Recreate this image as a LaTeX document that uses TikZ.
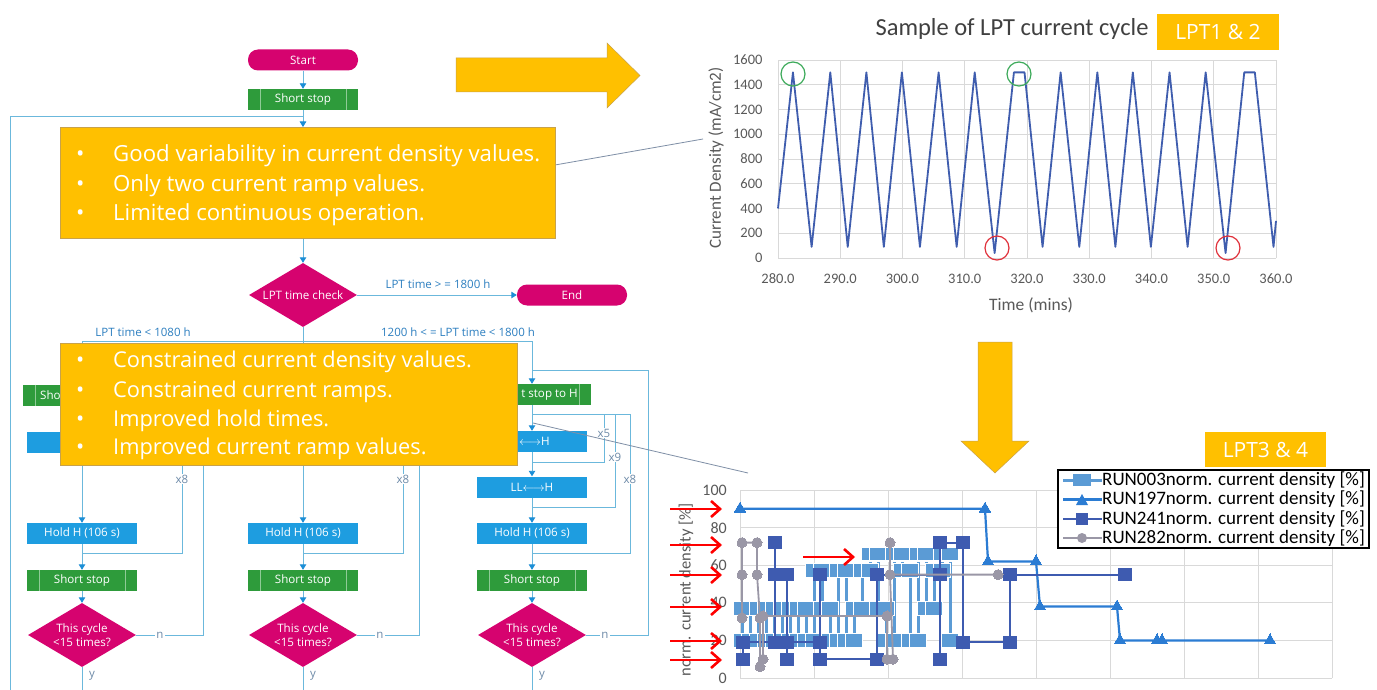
\documentclass[tikz,border=0pt]{standalone}
\usepackage{fontspec}
\setmainfont{Carlito}
\newfontfamily\fcf{Open Sans}
\usetikzlibrary{arrows.meta,shapes.geometric,plotmarks}
\definecolor{mg}{HTML}{D6036F}
\definecolor{gn}{HTML}{2E9B3B}
\definecolor{gl}{HTML}{8FCB96}
\definecolor{bl}{HTML}{1E9DE0}
\definecolor{cn}{HTML}{6BB8DC}
\definecolor{ah}{HTML}{1B8ED6}
\definecolor{lb}{HTML}{2D7FC0}
\definecolor{xg}{HTML}{6D8AA8}
\definecolor{og}{HTML}{FFC000}
\definecolor{obd}{HTML}{C8A24A}
\definecolor{tg}{HTML}{595959}
\definecolor{tt}{HTML}{404040}
\definecolor{gr}{HTML}{D9D9D9}
\definecolor{wv}{HTML}{3F5DAE}
\definecolor{r003}{HTML}{5B9BD5}
\definecolor{r197}{HTML}{2B7CD3}
\definecolor{r241}{HTML}{3E5BB0}
\definecolor{r282}{HTML}{9A97A6}
\definecolor{cgreen}{HTML}{3DAA5A}
\definecolor{cred}{HTML}{E0303A}
\definecolor{cl}{HTML}{7F8FA6}
\begin{document}
\begin{tikzpicture}[x=1pt,y=-1pt,
  conn/.style={draw=cn, line width=0.9pt},
  ar/.style={conn, -{Triangle[width=6.5pt,length=5.5pt,color=ah]}},
  fc/.style={text=white, inner sep=0pt, font=\fcf\fontsize{11.6}{14}\selectfont, align=center},
  pill/.style={fc, fill=mg, rounded corners=10pt, minimum width=110pt, minimum height=21pt},
  gbox/.style={fc, fill=gn, minimum width=110pt, minimum height=21pt,
    path picture={\draw[draw=gl, line width=0.8pt]
      ([xshift=12pt]path picture bounding box.north west) -- ([xshift=12pt]path picture bounding box.south west)
      ([xshift=-12pt]path picture bounding box.north east) -- ([xshift=-12pt]path picture bounding box.south east);}},
  bbox/.style={fc, fill=bl, minimum width=110pt, minimum height=21pt},
  dia/.style={fc, diamond, fill=mg, shape aspect=1.7, minimum width=108pt, minimum height=64pt},
  lab/.style={text=lb, inner sep=1pt, font=\fcf\fontsize{11.5}{13}\selectfont},
  xlab/.style={text=xg, fill=white, inner sep=1pt, font=\fcf\fontsize{11.5}{13}\selectfont},
  ylab/.style={text=xg, inner sep=1pt, font=\fcf\fontsize{11.5}{13}\selectfont},
  wt/.style={text=white, inner sep=0pt, font=\fcf\fontsize{11.6}{14}\selectfont},
  obox/.style={fill=og, draw=obd, line width=0.6pt, inner sep=0pt},
  otext/.style={text=white, inner sep=0pt, anchor=base west, font=\fcf\fontsize{22.2}{26}\selectfont},
  tk/.style={text=tg, font=\fontsize{14.5}{16}\selectfont, inner sep=1pt},
  grd/.style={draw=gr, line width=0.8pt},
  bigar/.style={fill=og, draw=obd, line width=0.5pt},
  rar/.style={draw=red, line width=2.6pt, -{Straight Barb[length=9pt,width=16pt]}},
  callout/.style={draw=cl, line width=0.8pt},
  legt/.style={anchor=west, inner sep=0pt, font=\fontsize{19}{22}\selectfont},
  lptbox/.style={fill=og, inner sep=0pt, text=white, font=\fcf\fontsize{21}{24}\selectfont},
]
\fill[white] (0,0) rectangle (1377,690);
\useasboundingbox (0,0) rectangle (1377,690);

% ---------------- flowchart ----------------
\node[pill] (start) at (303,60) {Start};
\node[gbox] (ss0) at (303,99.5) {Short stop};
\draw[ar] (start) -- (ss0);
\coordinate (lpB) at (10,690);
\coordinate (lpT) at (10,116);
\coordinate (lpJ) at (303,116);
\coordinate (ob1top) at (303,127);
\coordinate (ob1bot) at (303,238);
\draw[conn] (ss0.south) -- (lpJ);
\draw[conn] (lpB) -- (lpT) -- (lpJ);
\draw[ar] (lpJ) -- (ob1top);
\node[dia] (chk) at (303,295) {LPT time check};
\draw[ar] (ob1bot) -- (chk.north);
\node[pill] (end) at (572,295) {End};
\draw[ar] (chk.east) -- (end.west);
\node[lab] (lgE) at (438,284) {LPT time > = 1800 h};
\coordinate (br1) at (82,341);
\coordinate (br3) at (532,341);
\draw[conn] (br1) -- (br3);
\node[lab] (lg1) at (143,332) {LPT time < 1080 h};
\node[lab] (lg3) at (458,332) {1200 h < = LPT time < 1800 h};

% column 1
\node[gbox, minimum width=118pt] (s1) at (82,395) {};
\node[wt, anchor=west] (s1t) at (40,395) {Sho};
\node[bbox] (a1) at (82,442) {};
\node[bbox] (hd1) at (82,533.5) {Hold H (106 s)};
\node[gbox] (ss1) at (82,580.5) {Short stop};
\node[dia] (d1) at (82,635) {This cycle\\<15 times?};
\draw[ar] (br1) -- (s1.north);
\draw[ar] (s1) -- (a1);
\draw[ar] (a1) -- (hd1);
\draw[ar] (hd1) -- (ss1);
\draw[ar] (ss1) -- (d1);
\coordinate (e1) at (82,690);
\draw[conn] (d1.south) -- (e1);
\coordinate (j1) at (82,553);
\coordinate (t1) at (182,420);
\coordinate (k1) at (82,420);
\draw[conn] (j1) -| (t1) -- (k1);
\coordinate (n1) at (203,372);
\coordinate (m1) at (82,372);
\draw[conn] (d1.east) -| (n1) -- (m1);
\node[xlab] (x1) at (182,479) {x8};
\node[xlab] (nl1) at (160,635) {n};
\node[ylab] (y1) at (92,676) {y};

% column 2
\node[bbox] (hd2) at (303,533.5) {Hold H (106 s)};
\node[gbox] (ss2) at (303,580.5) {Short stop};
\node[dia] (d2) at (303,635) {This cycle\\<15 times?};
\draw[ar] (chk.south) -- (hd2.north);
\draw[ar] (hd2) -- (ss2);
\draw[ar] (ss2) -- (d2);
\coordinate (e2) at (303,690);
\draw[conn] (d2.south) -- (e2);
\coordinate (j2) at (303,553);
\coordinate (t2) at (403,420);
\coordinate (k2) at (303,420);
\draw[conn] (j2) -| (t2) -- (k2);
\coordinate (n2) at (419,372);
\coordinate (m2) at (303,372);
\draw[conn] (d2.east) -| (n2) -- (m2);
\node[xlab] (x2) at (403,479) {x8};
\node[xlab] (nl2) at (380,635) {n};
\node[ylab] (y2) at (313,676) {y};

% column 3
\node[gbox, minimum width=118pt] (s3) at (532,394.5) {};
\node[wt, anchor=east] (s3t) at (578,394.5) {t stop to H};
\node[bbox] (a3) at (532,441.5) {};
\node[wt, anchor=west] (a3t) at (519,441.5) {$\longleftrightarrow$H};
\node[bbox] (b3) at (532,487) {LL$\longleftrightarrow$H};
\node[bbox] (hd3) at (532,533.5) {Hold H (106 s)};
\node[gbox] (ss3) at (532,580.5) {Short stop};
\node[dia] (d3) at (532,635) {This cycle\\<15 times?};
\draw[ar] (br3) -- (s3.north);
\draw[ar] (s3) -- (a3);
\draw[ar] (a3) -- (b3);
\draw[ar] (b3) -- (hd3);
\draw[ar] (hd3) -- (ss3);
\draw[ar] (ss3) -- (d3);
\coordinate (e3b) at (532,690);
\draw[conn] (d3.south) -- (e3b);
\coordinate (e3) at (532,414);
\coordinate (j5) at (532,462);
\coordinate (t5) at (604,414);
\draw[conn] (j5) -| (t5) -- (e3);
\coordinate (j9) at (532,507);
\coordinate (t9) at (615,414);
\draw[conn] (j9) -| (t9) -- (e3);
\coordinate (j8) at (532,553);
\coordinate (t8) at (630,414);
\draw[conn] (j8) -| (t8) -- (e3);
\coordinate (n3) at (648,370);
\coordinate (m3) at (532,370);
\draw[conn] (d3.east) -| (n3) -- (m3);
\node[xlab] (x5) at (604,433) {x5};
\node[xlab] (x9) at (615,457) {x9};
\node[xlab] (x8c) at (630,479) {x8};
\node[xlab] (nl3) at (605,635) {n};
\node[ylab] (y3) at (542,676) {y};

% callout lines
\coordinate (cl1a) at (555,165);
\coordinate (cl1b) at (703,139);
\draw[callout] (cl1a) -- (cl1b);
\coordinate (cl2a) at (533,423);
\coordinate (cl2b) at (748,473);
\draw[callout] (cl2a) -- (cl2b);

% orange boxes
\node[obox, minimum width=495pt, minimum height=111pt] (ob1) at (307.5,182.5) {};
\node[otext] (t1a) at (76,161.5) {\makebox[37pt][l]{•}Good variability in current density values.};
\node[otext] (t1b) at (76,191.5) {\makebox[37pt][l]{•}Only two current ramp values.};
\node[otext] (t1c) at (76,221) {\makebox[37pt][l]{•}Limited continuous operation.};
\node[obox, minimum width=457pt, minimum height=122pt] (ob2) at (288.5,404) {};
\node[otext, font=\fcf\fontsize{21.8}{26}\selectfont] (t2a) at (76,367) {\makebox[37pt][l]{•}Constrained current density values.};
\node[otext, font=\fcf\fontsize{21.8}{26}\selectfont] (t2b) at (76,397) {\makebox[37pt][l]{•}Constrained current ramps.};
\node[otext, font=\fcf\fontsize{21.8}{26}\selectfont] (t2c) at (76,426) {\makebox[37pt][l]{•}Improved hold times.};
\node[otext, font=\fcf\fontsize{21.8}{26}\selectfont] (t2d) at (76,454) {\makebox[37pt][l]{•}Improved current ramp values.};

% big arrows
\filldraw[bigar] (456,58) -- (607,58) -- (607,43) -- (640,75.5) -- (607,108) -- (607,92) -- (456,92) -- cycle;
\filldraw[bigar] (978,342) -- (1012,342) -- (1012,441) -- (1029,441) -- (995,473) -- (961,441) -- (978,441) -- cycle;

% ---------------- top chart ----------------
\node[text=tt, font=\fontsize{24.5}{28}\selectfont, inner sep=0pt] (ttl) at (1012,29) {Sample of LPT current cycle};
\node[lptbox, minimum width=122pt, minimum height=36pt] (lpt12) at (1218,32) {LPT1 \& 2};
\begin{scope}[shift={(778,258)}, x=6.225pt, y=0.12375pt]
  \foreach \i in {0,...,8} {\draw[grd] (10*\i,0) -- (10*\i,1600);}
  \foreach \v in {0,200,...,1600} {\draw[grd] (0,\v) -- (80,\v);
    \node[tk, anchor=east] (ty\v) at (-2.3,\v) {\v};}
  \foreach \i in {0,...,8} {\pgfmathtruncatemacro\tv{280+10*\i}
    \node[tk] (tx\i) at (10*\i,-170) {\tv.0};}
  \draw[wv, line width=1.8pt, line join=round] plot coordinates {(0,400) (2.4,1500) (5.4,90) (8.4,1500) (11.2,90) (14.2,1500) (17,90) (19.9,1500) (22.8,90) (25.8,1500) (28.7,90) (31.6,1500) (34.8,40) (37.9,1500) (39.6,1500) (42.5,90) (45.4,1500) (48.4,90) (51.3,1500) (54.2,90) (57,1500) (59.9,90) (62.9,1500) (65.8,90) (68.7,1500) (71.9,40) (74.9,1500) (76.6,1500) (79.6,90) (80,300)};
\end{scope}
\draw[cgreen, line width=1.2pt] (793,74) circle[radius=12pt];
\draw[cgreen, line width=1.2pt] (1019,74) circle[radius=12pt];
\draw[cred, line width=1.2pt] (997,248) circle[radius=12pt];
\draw[cred, line width=1.2pt] (1228,248) circle[radius=12pt];
\node[tk, rotate=90, font=\fontsize{17}{19}\selectfont] (yl1) at (716,158) {Current Density (mA/cm2)};
\node[tk, font=\fontsize{17.5}{19}\selectfont] (xl1) at (1031,305) {Time (mins)};

% ---------------- bottom chart ----------------
\begin{scope}[shift={(0,678)}, x=1pt, y=1.88pt]
  \foreach \i in {0,...,8} {\draw[grd] (740+74*\i,0) -- (740+74*\i,100);}
  \foreach \v in {0,20,...,100} {\draw[grd] (740,\v) -- (1332,\v);
    \node[tk, anchor=east, font=\fontsize{16}{18}\selectfont] (by\v) at (728,\v) {\v};}
  % RUN003
  \draw[r003, line width=3pt, mark=square*, mark size=7pt, mark options={xscale=1.2, fill=r003, draw=white, line width=1.2pt}] plot coordinates {
    (742,37) (742,20) (750,20) (750,37) (758,37) (758,20) (766,20) (766,37) (774,37) (774,20) (782,20) (782,37) (790,37) (790,20) (798,20) (798,37) (806,37) (806,20)
    (814,20) (814,57) (822,57) (822,37) (830,37) (830,20) (838,20) (838,57) (846,57) (846,20) (854,20) (854,37) (862,37) (862,57) (870,57) (870,66) (878,66) (878,37) (886,37) (886,20) (894,20) (894,66) (902,66) (902,57) (910,57) (910,20) (918,20) (918,66) (926,66) (926,37) (934,37) (934,57) (942,57) (942,66) (950,66) (950,20)};
  % RUN197
  \draw[r197, line width=2.2pt, mark=triangle*, mark size=6.5pt, mark options={fill=r197, draw=r197, line width=0pt}] plot coordinates {
    (740,90) (985,90) (988,62) (1036,62) (1040,38) (1117,38) (1120,20) (1157,20) (1162,20) (1270,20)};
  % RUN241
  \draw[r241, line width=1.8pt, mark=square*, mark size=6.2pt, mark options={fill=r241, draw=r241, line width=0pt}] plot coordinates {
    (743,10) (743,19) (775,19) (775,72) (775,55) (787,55) (787,10) (787,19) (820,19) (820,55) (820,10) (877,10) (877,55) (940,55) (940,10) (940,72) (963,72) (963,19) (1010,19) (1010,55) (1125,55)};
  % RUN282
  \draw[r282, line width=1.8pt, mark=*, mark size=5pt, mark options={fill=r282, draw=r282, line width=0pt}] plot coordinates {
    (742,32) (742,55) (742,72) (757,72) (757,55) (760,32) (760,6) (763,10) (763,33) (887,33) (887,10) (893,10) (890,55) (890,72) (890,55) (998,55)};
\end{scope}
\node[tk, rotate=90, font=\fontsize{16.5}{18}\selectfont] (yl2) at (686,590) {norm. current density [\%]};
% red arrows
\foreach \k/\yy in {1/509,2/545,3/575,4/607,5/641,6/660} {
  \coordinate (ra\k) at (670,\yy);
  \coordinate (rb\k) at (722,\yy);
  \draw[rar] (ra\k) -- (rb\k);}
\coordinate (ra7) at (803,557);
\coordinate (rb7) at (855,557);
\draw[rar] (ra7) -- (rb7);

% legend
\node[lptbox, minimum width=121pt, minimum height=35pt] (lpt34) at (1265.5,449.5) {LPT3 \& 4};
\node[draw=black, fill=white, line width=1.5pt, minimum width=311pt, minimum height=78pt, inner sep=0pt] (leg) at (1213.5,509) {};
\draw[r003, line width=3pt] (1063,480) -- (1102,480);
\fill[r003] (1073,474) rectangle (1091,486);
\node[legt] (lg003) at (1102,480) {RUN003norm. current density [\%]};
\draw[r197, line width=2.2pt] (1063,499.5) -- (1102,499.5);
\fill[r197] (1076,505) -- (1088,505) -- (1082,494) -- cycle;
\node[legt] (lg197) at (1102,499.5) {RUN197norm. current density [\%]};
\draw[r241, line width=1.8pt] (1063,519) -- (1102,519);
\fill[r241] (1076,513) rectangle (1088,525);
\node[legt] (lg241) at (1102,519) {RUN241norm. current density [\%]};
\draw[r282, line width=1.8pt] (1063,538) -- (1102,538);
\fill[r282] (1082,538) circle[radius=5pt];
\node[legt] (lg282) at (1102,538) {RUN282norm. current density [\%]};
\end{tikzpicture}
\end{document}
